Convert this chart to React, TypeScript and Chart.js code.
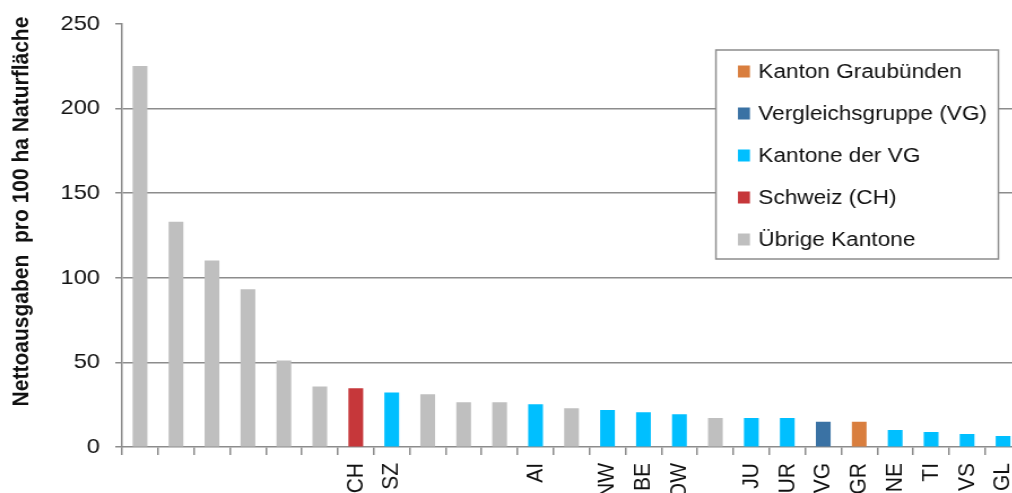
import React, { useEffect, useRef } from 'react';
import { Chart, registerables } from 'chart.js';

Chart.register(...registerables);

const categories = ['', '', '', '', '', '', 'CH', 'SZ', '', '', '', 'AI', '', 'NW', 'BE', 'OW', '', 'JU', 'UR', 'VG', 'GR', 'NE', 'TI', 'VS', 'GL'];
const values = [225, 133, 110, 93, 51, 35.5, 34.5, 32, 31, 26.3, 26.3, 25, 22.7, 21.6, 20.4, 19.2, 17, 17, 17, 14.7, 14.7, 9.8, 8.6, 7.5, 6.3];
const groups = ['U', 'U', 'U', 'U', 'U', 'U', 'CH', 'VGK', 'U', 'U', 'U', 'VGK', 'U', 'VGK', 'VGK', 'VGK', 'U', 'VGK', 'VGK', 'VG', 'GR', 'VGK', 'VGK', 'VGK', 'VGK'];
const legendKeys = ['GR', 'VG', 'VGK', 'CH', 'U'];
const legendLabels = ['Kanton Graubünden', 'Vergleichsgruppe (VG)', 'Kantone der VG', 'Schweiz (CH)', 'Übrige Kantone'];
const groupColors: Record<string, string> = {
  GR: '#D97E3E',
  VG: '#3A72A4',
  VGK: '#00BFFF',
  CH: '#C6373A',
  U: '#BFBFBF',
};
const yMin = 0;
const yMax = 250;
const yStep = 50;
const yTitle = 'Nettoausgaben  pro 100 ha Naturfläche';

const STRETCH = 1.13;
const CW = 921;
const CH = 520;
const AXIS_BOTTOM = 447;
const GRID = '#8c8c8c';
const TEXT = '#111111';

const decorPlugin = {
  id: 'decor',
  afterDraw(chart: any) {
    const ctx = chart.ctx;
    const area = chart.chartArea;
    // y axis title
    ctx.save();
    ctx.translate(19.5, 211.5);
    ctx.rotate(-Math.PI / 2);
    ctx.font = 'bold 21px "Liberation Sans", Arial, sans-serif';
    ctx.fillStyle = TEXT;
    ctx.textAlign = 'center';
    ctx.textBaseline = 'middle';
    ctx.fillText(yTitle, 0, 0);
    ctx.restore();

    // legend box
    const boxW = 250;
    const boxH = 209;
    const right = area.right - 20;
    const left = right - boxW;
    const top = 50;
    ctx.save();
    ctx.fillStyle = '#ffffff';
    ctx.fillRect(left, top, boxW, boxH);
    ctx.strokeStyle = GRID;
    ctx.lineWidth = 1.5;
    ctx.strokeRect(left, top, boxW, boxH);
    ctx.font = '20px "Liberation Sans", Arial, sans-serif';
    ctx.textAlign = 'left';
    ctx.textBaseline = 'middle';
    legendKeys.forEach((k, i) => {
      const cy = top + 21.5 + i * 42;
      ctx.fillStyle = groupColors[k];
      ctx.fillRect(left + 19.5, cy - 6, 10.6, 12);
      ctx.fillStyle = TEXT;
      ctx.fillText(legendLabels[i], left + 37.5, cy + 1);
    });
    ctx.restore();
  },
};

export default function App() {
  const ref = useRef<HTMLCanvasElement>(null);
  useEffect(() => {
    if (!ref.current) return;
    const chart = new Chart(ref.current, {
      type: 'bar',
      data: {
        labels: categories,
        datasets: [
          {
            data: values,
            backgroundColor: groups.map((g) => groupColors[g]),
            barThickness: 12.4,
            borderWidth: 0,
          },
        ],
      },
      options: {
        responsive: false,
        animation: false,
        devicePixelRatio: 1,
        layout: { padding: { left: 0, top: 22, right: 8, bottom: 0 } },
        plugins: {
          legend: { display: false },
          tooltip: { enabled: false },
          title: { display: false },
        },
        scales: {
          x: {
            type: 'category',
            afterFit: (s: any) => {
              s.height = CH - AXIS_BOTTOM;
            },
            grid: {
              display: true,
              drawOnChartArea: false,
              drawTicks: true,
              tickLength: 8,
              color: GRID,
              lineWidth: 1.5,
              offset: true,
            },
            border: { display: true, color: GRID, width: 1.5 },
            ticks: {
              autoSkip: false,
              minRotation: 90,
              maxRotation: 90,
              padding: 8,
              color: TEXT,
              font: { family: '"Liberation Sans", Arial, sans-serif', size: 21 },
            },
          },
          y: {
            min: yMin,
            max: yMax,
            afterFit: (s: any) => {
              s.width = 108;
            },
            ticks: {
              stepSize: yStep,
              padding: 13.5,
              color: TEXT,
              font: { family: '"Liberation Sans", Arial, sans-serif', size: 21, lineHeight: 1.0 },
            },
            grid: {
              display: true,
              drawTicks: true,
              tickLength: 6,
              lineWidth: 1.5,
              color: (c: any) => (c.tick && (c.tick.value === yMax || c.tick.value === yMin) ? 'rgba(0,0,0,0)' : GRID),
              tickColor: GRID,
            },
            border: { display: true, color: GRID, width: 1.5 },
          },
        },
      },
      plugins: [decorPlugin],
    });
    return () => chart.destroy();
  }, []);

  return (
    <div style={{ position: 'absolute', left: 0, top: 0, width: 1012, height: 493, overflow: 'hidden', background: '#fff' }}>
      <div style={{ width: CW, height: CH, transform: `scaleX(${STRETCH})`, transformOrigin: '0 0' }}>
        <canvas ref={ref} width={CW} height={CH} style={{ display: 'block', width: CW, height: CH }} />
      </div>
    </div>
  );
}
